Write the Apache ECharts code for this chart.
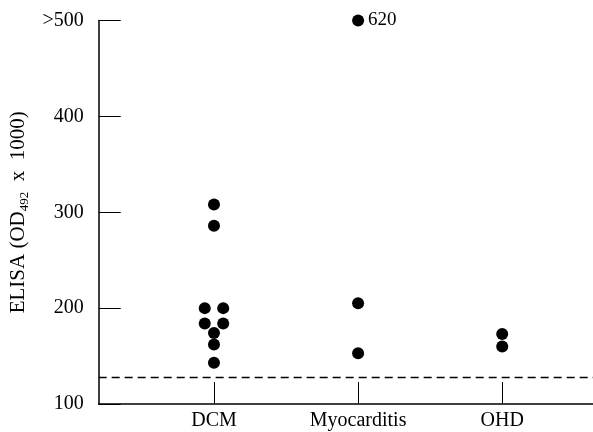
<!DOCTYPE html>
<html><head><meta charset="utf-8">
<script src="https://cdn.jsdelivr.net/npm/echarts@6/dist/echarts.min.js"></script>
<style>html,body{margin:0;padding:0;background:#fff}#c{width:593px;height:432px}</style>
</head><body><div id="c"></div>
<script>
// Data
const categories = ['DCM', 'Myocarditis', 'OHD'];
const dcmValues = [308, 286, 200, 200, 184, 184, 174, 162, 143];
const dcmJitter = [0, 0, -1, 1, -1, 1, 0, 0, 0];
const myoValues = [620, 205, 153];
const myoJitter = [0, 0, 0];
const ohdValues = [173, 160];
const ohdJitter = [0, 0];
const cutoff = 128;
const yTicks = [100, 200, 300, 400, 500];
const yCap = 500;

const spread = 0.064;
const FONT = '"Liberation Serif", "Times New Roman", serif';

function pts(ci, vals, jit) {
  return vals.map((v, i) => ({
    value: [ci + 1 + jit[i] * spread, Math.min(v, yCap)],
    raw: v,
    label: v > yCap ? { show: true, position: 'right', distance: 4, formatter: String(v),
      color: '#000', fontSize: 19, fontFamily: FONT } : { show: false }
  }));
}

const data = [].concat(pts(0, dcmValues, dcmJitter), pts(1, myoValues, myoJitter), pts(2, ohdValues, ohdJitter));

const chart = echarts.init(document.getElementById('c'), null, { renderer: 'canvas' });
chart.setOption({
  animation: false,
  backgroundColor: '#fff',
  grid: { left: 96, right: 0, top: 20.5, bottom: 28, containLabel: false },
  xAxis: {
    type: 'value', min: 0.2, max: 3.63,
    splitLine: { show: false },
    axisLine: { show: true, lineStyle: { color: '#000', width: 1.5 } },
    axisTick: { show: true, inside: true, length: 22, customValues: [1, 2, 3], lineStyle: { color: '#000', width: 1 } },
    axisLabel: { show: true, customValues: [1, 2, 3], formatter: v => categories[Math.round(v) - 1] || '',
      color: '#000', fontSize: 20, fontFamily: FONT, margin: 7 }
  },
  yAxis: {
    type: 'value', min: 100, max: 500, interval: 100,
    splitLine: { show: false },
    axisLine: { show: true, lineStyle: { color: '#000', width: 1.5 } },
    axisTick: { show: true, inside: true, length: 22, lineStyle: { color: '#000', width: 1 } },
    axisLabel: { color: '#000', fontSize: 20, fontFamily: FONT, margin: 15,
      formatter: v => (v === yCap ? '>' + v : String(v)) },
    name: '{a|ELISA (OD}{s|492}{a|  x  1000)}',
    nameLocation: 'middle', nameRotate: 90, nameGap: 57,
    nameTextStyle: {
      color: '#000', fontFamily: FONT,
      rich: {
        a: { fontSize: 21, fontFamily: FONT, color: '#000', verticalAlign: 'middle', lineHeight: 26 },
        s: { fontSize: 13, fontFamily: FONT, color: '#000', verticalAlign: 'bottom', lineHeight: 10 }
      }
    }
  },
  series: [{
    type: 'scatter',
    symbol: 'circle', symbolSize: 12,
    itemStyle: { color: '#000', opacity: 1 },
    data: data,
    markLine: {
      silent: true, symbol: 'none',
      label: { show: false },
      lineStyle: { color: '#000', type: [8, 5], width: 1.3 },
      data: [{ yAxis: cutoff }]
    }
  }]
});
</script></body></html>
